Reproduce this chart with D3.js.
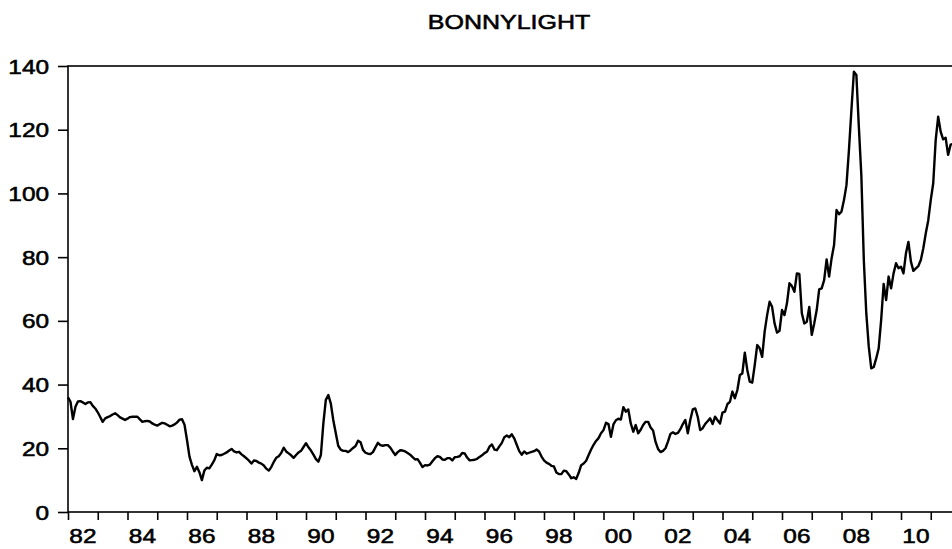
<!DOCTYPE html>
<html>
<head>
<meta charset="utf-8">
<script src="https://cdn.jsdelivr.net/npm/d3@7"></script>
<style>
  body { margin: 0; background: #fff; }
  text { font-family: "Liberation Sans", Arial, sans-serif; fill: #000; stroke: #000; stroke-width: 0.55px; }
</style>
</head>
<body>
<svg id="chart"></svg>
<script>
const chartTitle = "BONNYLIGHT";
const firstYear = 1982;
const yTicks = [0, 20, 40, 60, 80, 100, 120, 140];
const yearTicks = d3.range(1982, 2012);
const labelYears = [1982, 1984, 1986, 1988, 1990, 1992, 1994, 1996, 1998, 2000, 2002, 2004, 2006, 2008, 2010];
const labelText = ["82", "84", "86", "88", "90", "92", "94", "96", "98", "00", "02", "04", "06", "08", "10"];

// monthly prices, one row per year
const prices1980s = [
  36, 34.6, 29.2, 33, 34.7, 34.8, 34.4, 33.9, 34.4, 34.5, 33.3, 32.5,
  31.3, 29.8, 28.3, 29.4, 29.8, 30.1, 30.6, 31, 30.4, 29.7, 29.3, 28.9,
  29.3, 29.8, 29.9, 29.9, 29.9, 29.1, 28.3, 28.5, 28.6, 28.4, 27.8, 27.4,
  27.1, 27.6, 28, 27.8, 27.4, 26.9, 27.1, 27.5, 28.1, 29, 29.1, 27.4,
  22.6, 17.4, 14.8, 12.8, 14.2, 12.5, 10, 13, 13.9, 13.7, 14.9, 16.2,
  18.2, 17.8, 17.9, 18.3, 18.7, 19.3, 19.8, 19, 18.7, 18.9, 18.1, 17.5,
  16.8, 16.1, 15.2, 16.2, 16, 15.5, 15.2, 14.6, 13.6, 13, 14.1, 15.7,
  17, 17.5, 18.5, 20.2, 19, 18.4, 17.8, 17, 17.9, 18.7, 19.2, 20.4
];
const prices1990s = [
  21.6, 20.3, 19.3, 18, 16.6, 15.8, 17.9, 27.8, 35.2, 36.7, 34.1, 28.9,
  24.8, 20.8, 19.6, 19.2, 19.2, 18.8, 19.4, 20.1, 20.7, 22.4, 21.9, 19.5,
  18.6, 18.3, 18.2, 18.8, 20.3, 21.7, 21, 20.8, 21, 21, 20.2, 19,
  17.9, 18.8, 19.4, 19.3, 19, 18.5, 18, 17.2, 16.5, 16.6, 15.4, 14.1,
  14.7, 14.6, 14.9, 15.9, 16.9, 17.5, 17.3, 16.5, 16.4, 16.9, 16.9, 16.2,
  17.2, 17.3, 17.5, 18.5, 18.4, 17.1, 16.2, 16.3, 16.4, 16.7, 17.3, 17.8,
  18.5, 18.9, 20.5, 21.2, 19.6, 19.4, 20.6, 21.7, 23.5, 24, 23.5, 24.4,
  23.1, 21.1, 19.1, 18, 19, 18.3, 18.6, 18.9, 19.1, 19.6, 19, 17.4,
  16.2, 15.5, 15.1, 14.5, 14.3, 12.4, 11.9, 11.9, 13, 12.8, 11.8, 10.6,
  10.9, 10.4, 12.3, 14.7, 15.2, 16.1, 17.9, 19.6, 21.1, 22.3, 23.2, 24.7
];
const prices2000s = [
  25.7, 28, 27.6, 23.6, 27.5, 28.8, 29.3, 29, 32.9, 31.5, 32.2, 27.8,
  25.2, 27.3, 24.7, 25.8, 27.3, 28.3, 28.3, 26.5, 25.6, 22, 19.8, 18.8,
  19.2, 20, 22.1, 24.5, 25, 24.5, 24.8, 26, 27.6, 28.9, 24.7, 28.9,
  32.2, 32.5, 29.9, 25.7, 26.3, 27.6, 28.5, 29.4, 27.6, 29.9, 28.8, 27.8,
  31.2, 31.5, 33.9, 34.6, 37.8, 35.7, 38.3, 43, 43.5, 50, 44.6, 40.9,
  40.6, 46.1, 52.4, 51.4, 48.7, 56.6, 61.8, 66, 64.4, 59.2, 56.3, 56.9,
  63.4, 61.8, 65.5, 71.8, 70.9, 69.1, 74.9, 74.7, 62.4, 59.2, 59.7, 64.4,
  55.6, 59.2, 63.4, 69.9, 70.2, 72.8, 79.3, 73.9, 79.6, 83.8, 94.8, 93.5,
  94.3, 97.9, 102.6, 113.6, 126.2, 138.2, 137.2, 120.9, 105.8, 79.1, 62.4, 51.9,
  45.1, 45.5, 48.2, 51.4, 60.3, 71.6, 66.5, 73.9, 70.2, 74.9, 78.1, 76.5
];
const prices2010s = [
  77, 74.9, 81.2, 84.8, 78.6, 75.7, 76.5, 77.2, 79.1, 82.8, 87.5, 91.6,
  97.9, 103.2, 116.8, 124.1, 119.4, 117, 117.5, 112.1, 115.3, 115.5
];

const width = 952, height = 549;
const margin = { top: 66, left: 68, bottom: 37 };
const yearWidth = 29.75;
const textScale = 1.25;

const svg = d3.select('#chart').attr('width', width).attr('height', height);

const data = prices1980s.concat(prices1990s, prices2000s, prices2010s)
  .map((v, i) => ({ t: firstYear + i / 12, v: v }));

const x = d3.scaleLinear().domain([1982, 2012]).range([margin.left, margin.left + 30 * yearWidth]);
const y = d3.scaleLinear().domain([0, 140]).range([height - margin.bottom, margin.top]);

// title
svg.append('text')
  .attr('transform', 'translate(509,29) scale(' + textScale + ',1)')
  .attr('text-anchor', 'middle')
  .style('font-size', '20px')
  .text(chartTitle);

// frame
svg.append('rect')
  .attr('x', x(1982)).attr('y', y(140))
  .attr('width', x(2012) - x(1982)).attr('height', y(0) - y(140))
  .attr('fill', 'none').attr('stroke', '#000').attr('stroke-width', 1.6);

// y axis
svg.append('g')
  .attr('transform', 'translate(' + margin.left + ',0)')
  .call(d3.axisLeft(y).tickValues(yTicks).tickSize(10).tickFormat(d3.format('d')))
  .call(g => {
    g.select('.domain').remove();
    g.selectAll('.tick line').attr('stroke', '#000').attr('stroke-width', 1.6);
    g.selectAll('.tick text')
      .attr('x', null).attr('dy', '0.36em')
      .attr('transform', 'translate(-19,0) scale(' + textScale + ',1)')
      .style('font-size', '19.5px');
  });

// x axis: yearly ticks, labels every two years centred in the year
svg.append('g')
  .attr('transform', 'translate(0,' + y(0) + ')')
  .call(d3.axisBottom(x).tickValues(yearTicks).tickSize(8).tickFormat(''))
  .call(g => {
    g.select('.domain').remove();
    g.selectAll('.tick line').attr('stroke', '#000').attr('stroke-width', 1.6);
  });

svg.append('g').selectAll('text')
  .data(labelYears)
  .enter().append('text')
  .attr('transform', (d) => 'translate(' + x(d + 0.5) + ',' + (y(0) + 30.5) + ') scale(' + textScale + ',1)')
  .attr('text-anchor', 'middle')
  .style('font-size', '19.5px')
  .text((d, i) => labelText[i]);

// price line
const line = d3.line().x(d => x(d.t)).y(d => y(d.v));

svg.append('path')
  .datum(data)
  .attr('d', line)
  .attr('fill', 'none')
  .attr('stroke', '#000')
  .attr('stroke-width', 2.4)
  .attr('stroke-linejoin', 'round');
</script>
</body>
</html>
